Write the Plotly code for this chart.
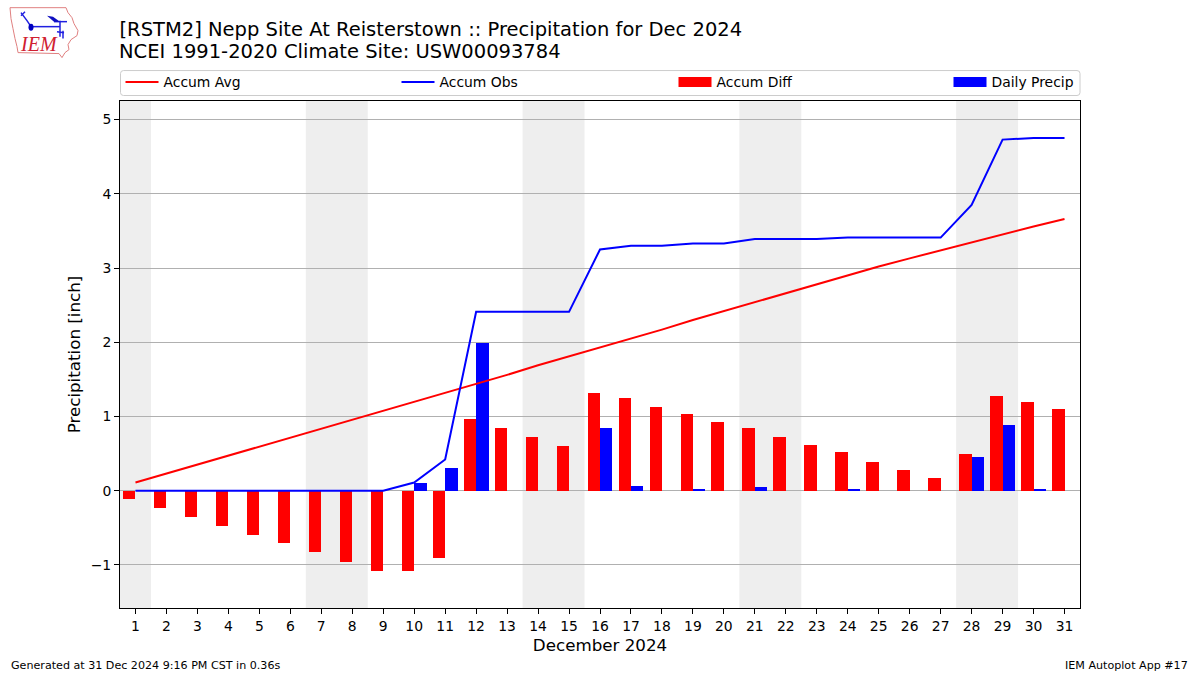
import plotly.graph_objects as go

W, H = 1200, 675
L, R, T, B = 120, 1080, 100.5, 608.5

days = list(range(1, 32))
accum_avg = [0.11, 0.23, 0.35, 0.47, 0.59, 0.71, 0.83, 0.95, 1.07, 1.19, 1.32, 1.44, 1.56, 1.69, 1.81, 1.93,
             2.05, 2.17, 2.30, 2.42, 2.55, 2.67, 2.79, 2.90, 3.02, 3.13, 3.24, 3.35, 3.46, 3.56, 3.66]
accum_obs = [0, 0, 0, 0, 0, 0, 0, 0, 0, 0.11, 0.42, 2.41, 2.41, 2.41, 2.41, 3.25,
             3.30, 3.30, 3.33, 3.33, 3.39, 3.39, 3.39, 3.41, 3.41, 3.41, 3.41, 3.85, 4.73, 4.75, 4.75]
accum_diff = [-0.11, -0.23, -0.35, -0.47, -0.59, -0.71, -0.83, -0.955, -1.076, -1.076, -0.90, 0.97, 0.85, 0.72, 0.60, 1.32,
              1.25, 1.13, 1.03, 0.92, 0.84, 0.72, 0.61, 0.52, 0.39, 0.285, 0.176, 0.50, 1.276, 1.195, 1.10]
daily_precip = [0, 0, 0, 0, 0, 0, 0, 0, 0, 0.11, 0.31, 1.99, 0, 0, 0, 0.84,
                0.06, 0, 0.027, 0, 0.054, 0, 0, 0.014, 0, 0, 0, 0.448, 0.88, 0.014, 0]
weekend_spans = [(0.5, 1.5), (6.5, 8.5), (13.5, 15.5), (20.5, 22.5), (27.5, 29.5)]

FONT = "DejaVu Sans"
BAR_W = 0.4

def rel_x(x): return (x - L) / (R - L)
def rel_y(y): return (B - y) / (B - T)

fig = go.Figure()
fig.add_trace(go.Bar(x=days, y=accum_diff, name="Accum Diff", marker=dict(color="#ff0000", line_width=0),
                     width=BAR_W, offset=-BAR_W, showlegend=False))
fig.add_trace(go.Bar(x=days, y=daily_precip, name="Daily Precip", marker=dict(color="#0000ff", line_width=0),
                     width=BAR_W, offset=0, showlegend=False))
fig.add_trace(go.Scatter(x=days, y=accum_avg, name="Accum Avg", mode="lines", line=dict(color="#ff0000", width=2),
                         legend="legend"))
fig.add_trace(go.Scatter(x=days, y=accum_obs, name="Accum Obs", mode="lines", line=dict(color="#0000ff", width=2),
                         legend="legend2"))
# legend swatches for the two bar series, as wide as the reference's
fig.add_trace(go.Scatter(x=[None], y=[None], name="Accum Diff", mode="lines", line=dict(color="#ff0000", width=10),
                         legend="legend3"))
fig.add_trace(go.Scatter(x=[None], y=[None], name="Daily Precip", mode="lines", line=dict(color="#0000ff", width=10),
                         legend="legend4"))

for x0, x1 in weekend_spans:
    fig.add_shape(type="rect", xref="x", yref="paper", x0=x0, x1=x1, y0=0, y1=1,
                  fillcolor="#eeeeee", line_width=0, layer="below")

# rounded legend frame
lx0, lx1, ly0, ly1, r = 120.5, 1080, 70, 95, 3
frame = (f"M{rel_x(lx0+r)},{rel_y(ly0)} L{rel_x(lx1-r)},{rel_y(ly0)} Q{rel_x(lx1)},{rel_y(ly0)} {rel_x(lx1)},{rel_y(ly0+r)} "
         f"L{rel_x(lx1)},{rel_y(ly1-r)} Q{rel_x(lx1)},{rel_y(ly1)} {rel_x(lx1-r)},{rel_y(ly1)} "
         f"L{rel_x(lx0+r)},{rel_y(ly1)} Q{rel_x(lx0)},{rel_y(ly1)} {rel_x(lx0)},{rel_y(ly1-r)} "
         f"L{rel_x(lx0)},{rel_y(ly0+r)} Q{rel_x(lx0)},{rel_y(ly0)} {rel_x(lx0+r)},{rel_y(ly0)} Z")
fig.add_shape(type="path", xref="paper", yref="paper", path=frame, line=dict(color="#cccccc", width=1), layer="below")

# IEM logo, drawn in figure pixels
def logo_path(pts, close=False):
    s = "M" + " L".join(f"{rel_x(x)},{rel_y(y)}" for x, y in pts)
    return s + (" Z" if close else "")

iowa = [(10, 7), (66, 7), (68, 12), (72, 17), (74, 23), (78, 30), (77, 35), (71, 39), (68, 44), (69, 49), (65, 52),
        (62, 57), (59, 53), (18, 52), (17, 46), (15, 38), (13, 28), (11, 18)]
fig.add_shape(type="path", xref="paper", yref="paper", path=logo_path(iowa, True),
              line=dict(color="#e08080", width=1), fillcolor="rgba(255,255,255,0)")
blue_lines = [[(31, 26), (60, 26)], [(60, 20), (60, 36)], [(54, 21), (67, 21)], [(57, 31), (64, 32)],
              [(63, 30), (63, 38)], [(21, 12), (27, 20), (31, 26)], [(21, 15), (25, 11)]]
for seg in blue_lines:
    fig.add_shape(type="path", xref="paper", yref="paper", path=logo_path(seg), line=dict(color="#2020e0", width=1.5))
fig.add_shape(type="path", xref="paper", yref="paper", path=logo_path([(47, 15), (53, 16), (60, 21), (54, 21)], True),
              fillcolor="#1010c0", line_width=0)
fig.add_shape(type="circle", xref="paper", yref="paper", x0=rel_x(28.5), x1=rel_x(33.5), y0=rel_y(30), y1=rel_y(23),
              fillcolor="#0000c0", line_width=0)
fig.add_annotation(xref="paper", yref="paper", x=rel_x(18), y=rel_y(56), xanchor="left", yanchor="bottom",
                   text="<i>IEM</i>", showarrow=False, font=dict(family="Liberation Serif", size=20, color="#d02030"))

fig.add_annotation(xref="paper", yref="paper", x=rel_x(117), y=rel_y(51), xanchor="left", yanchor="middle",
                   text="NCEI 1991-2020 Climate Site: USW00093784", showarrow=False,
                   font=dict(family=FONT, size=19.5, color="black"))
fig.add_annotation(xref="paper", yref="paper", x=rel_x(9), y=rel_y(666), xanchor="left", yanchor="middle",
                   text="Generated at 31 Dec 2024 9:16 PM CST in 0.36s", showarrow=False,
                   font=dict(family=FONT, size=11.12, color="black"))
fig.add_annotation(xref="paper", yref="paper", x=rel_x(1190), y=rel_y(666), xanchor="right", yanchor="middle",
                   text="IEM Autoplot App #17", showarrow=False,
                   font=dict(family=FONT, size=11.12, color="black"))

def legend_at(x_px):
    return dict(orientation="h", x=rel_x(x_px), xanchor="left", y=rel_y(82), yanchor="middle",
                bgcolor="rgba(0,0,0,0)", borderwidth=0, itemwidth=33,
                font=dict(family=FONT, size=13.9, color="black"))

axis_common = dict(showline=True, mirror=True, linecolor="black", linewidth=1, ticks="outside",
                   ticklen=5, tickwidth=1, tickcolor="black", tickfont=dict(family=FONT, size=13.9, color="black"))
fig.update_layout(
    width=W, height=H, autosize=False,
    margin=dict(l=L, r=W - R, t=T, b=H - B, pad=0),
    paper_bgcolor="white", plot_bgcolor="white",
    font=dict(family=FONT, size=13.9, color="black"),
    title=dict(text="[RSTM2] Nepp Site At Reisterstown :: Precipitation for Dec 2024", xref="container", x=119.5 / W,
               xanchor="left", yref="container", y=1 - 29 / H, yanchor="middle",
               font=dict(family=FONT, size=19.5, color="black")),
    barmode="overlay", bargap=0,
    legend=legend_at(120.5), legend2=legend_at(396.5), legend3=legend_at(673.5), legend4=legend_at(948.5),
    xaxis=dict(range=[0.5, 31.5], tickmode="array", tickvals=days, ticktext=[str(d) for d in days], showgrid=False,
               zeroline=False, title=dict(text="December 2024", font=dict(family=FONT, size=16.7, color="black"), standoff=6),
               **axis_common),
    yaxis=dict(range=[-1.58, 5.25], tickmode="array", tickvals=[-1, 0, 1, 2, 3, 4, 5], showgrid=True,
               gridcolor="#b0b0b0", gridwidth=1, zeroline=False, tickformat="d",
               title=dict(text="Precipitation [inch]", font=dict(family=FONT, size=16.7, color="black"), standoff=5),
               **axis_common),
)
fig.write_html("out.html", config=dict(displayModeBar=False),
               post_script="document.body.style.margin='0';document.documentElement.style.overflow='hidden';")
